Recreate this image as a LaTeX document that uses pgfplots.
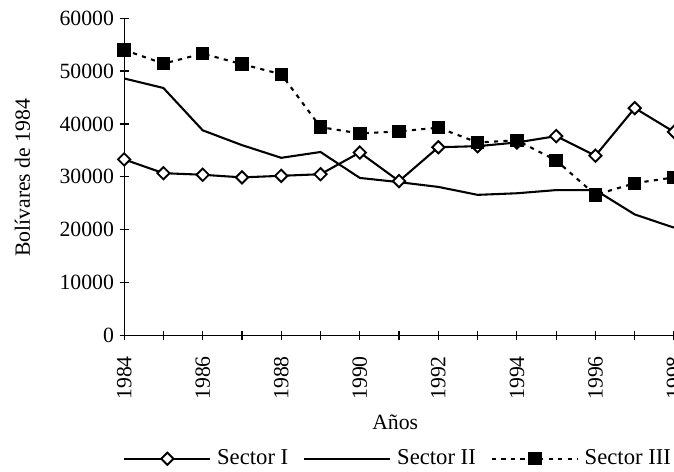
\documentclass[border=0pt]{standalone}
\usepackage{pgfplots}
\pgfplotsset{compat=1.18}
\usepackage{fontspec}
\setmainfont{Liberation Serif}
\begin{document}
\begin{tikzpicture}[font=\fontsize{11}{13}\selectfont]
\begin{axis}[
  at={(0,0)}, anchor=south west,
  scale only axis, width=291pt, height=168pt,
  xmin=1984, xmax=1998, ymin=0, ymax=60000,
  axis x line*=bottom, axis y line*=left,
  axis line style={line width=0.6pt, -},
  xtick={1984,1986,...,1998},
  minor xtick={1985,1987,...,1997},
  ytick={0,10000,...,60000},
  tick align=center,
  major tick length=4.8pt, minor tick length=4.8pt,
  tick style={black, line width=0.6pt},
  tick label style={font=\fontsize{11.5}{13}\selectfont},
  /pgf/number format/assume math mode=true,
  scaled y ticks=false,
  yticklabel style={xshift=0.5pt, /pgf/number format/.cd, fixed, 1000 sep={}},
  xticklabel style={rotate=90, anchor=east, xshift=-5pt, /pgf/number format/1000 sep={}},
  xlabel={Años},
  ylabel={Bolívares de 1984},
  every axis x label/.style={at={(axis description cs:0.493,-0.272)}, anchor=center, font=\fontsize{11.5}{14}\selectfont},
  every axis y label/.style={at={(axis description cs:-0.185,0.497)}, anchor=center, rotate=90, font=\fontsize{11.5}{14}\selectfont},
  legend style={at={(axis description cs:0.5,-0.388)}, anchor=center, draw=none, fill=none,
    font=\fontsize{12}{14}\selectfont,
    legend columns=3, /tikz/every even column/.append style={column sep=6pt},
    /tikz/every odd column/.append style={column sep=1pt}},
  legend image code/.code={
    \draw[mark repeat=2,mark phase=2,#1] plot coordinates {(0cm,0cm) (0.8cm,0cm) (1.6cm,0cm)};
  },
]
\addplot[black, line width=1.1pt, mark=square*, mark size=2.3pt,
  mark options={rotate=45, fill=white, solid, line width=1pt}] coordinates {
(1984,33300) (1985,30700) (1986,30400) (1987,29900) (1988,30200) (1989,30500)
(1990,34600) (1991,29200) (1992,35600) (1993,35800) (1994,36500) (1995,37700)
(1996,34000) (1997,43000) (1998,38500)};
\addlegendentry{Sector I}
\addplot[black, line width=1.1pt] coordinates {
(1984,48600) (1985,46800) (1986,38800) (1987,36000) (1988,33600) (1989,34700)
(1990,29800) (1991,29000) (1992,28100) (1993,26600) (1994,26900) (1995,27500)
(1996,27500) (1997,22900) (1998,20400)};
\addlegendentry{Sector II}
\addplot[black, line width=1.1pt, dash pattern=on 2.2pt off 2.8pt, mark=square*, mark size=3pt,
  mark options={solid}] coordinates {
(1984,54000) (1985,51400) (1986,53300) (1987,51300) (1988,49400) (1989,39400)
(1990,38200) (1991,38600) (1992,39300) (1993,36500) (1994,36900) (1995,33100)
(1996,26600) (1997,28800) (1998,29900)};
\addlegendentry{Sector III}
\end{axis}
\pgfresetboundingbox
\useasboundingbox (-65.7pt,-72.1pt) rectangle (291pt,177.6pt);
\end{tikzpicture}
\end{document}
